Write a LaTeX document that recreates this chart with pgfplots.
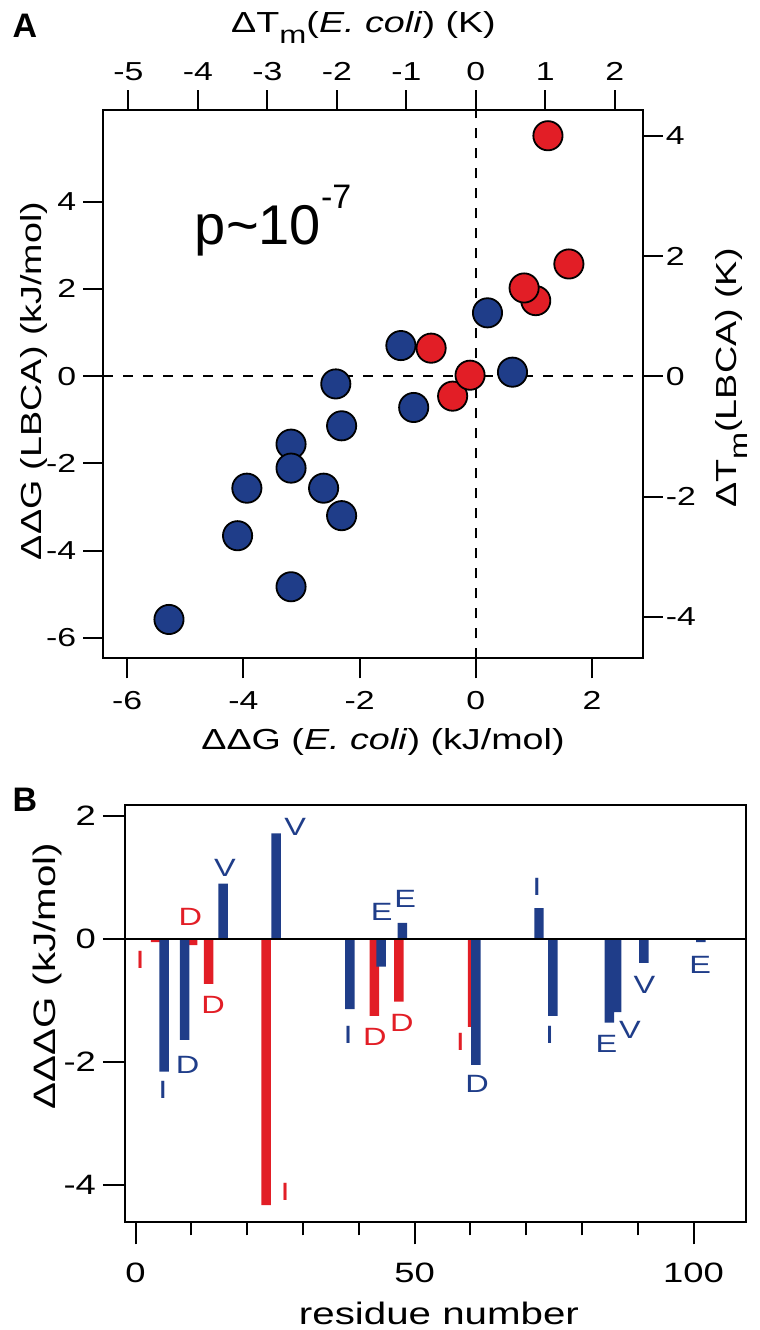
\documentclass[border=0pt]{standalone}
\usepackage{fontspec}
\setmainfont{Liberation Sans}[FakeStretch=1.3]
\newfontfamily\pfont{Liberation Sans}
\usepackage{pgfplots}
\pgfplotsset{compat=1.18}
\definecolor{myblue}{RGB}{31,61,137}
\definecolor{myred}{RGB}{226,30,38}
\newcommand{\sub}[1]{\raisebox{-5.5pt}{\fontsize{12.5}{13}\selectfont #1}}
\pgfplotsset{
  base/.style={
    scale only axis, anchor=south west,
    tick align=outside,
    axis line style={line width=1pt},
    every tick/.style={black, line width=1pt},
    /pgf/number format/assume math mode=true,
    label style={font=\fontsize{14.5}{16}\selectfont},
  },
}
\begin{document}
\begin{tikzpicture}
\path[use as bounding box] (0pt,0pt) rectangle (380pt,665pt);
% ---------- Panel A: secondary axes (top / right) ----------
\begin{axis}[base,
  at={(51.65pt,335.85pt)}, width=269.7pt, height=274.15pt,
  xmin=-5.36, xmax=2.40, ymin=-4.69, ymax=4.43,
  xtick={-5,-4,-3,-2,-1,0,1,2}, ytick={-4,-2,0,2,4},
  xtick pos=right, xticklabel pos=right,
  ytick pos=right, yticklabel pos=right,
  major tick length=10pt,
  tick label style={font=\fontsize{13}{14}\selectfont},
  xticklabel style={yshift=1pt},
  yticklabel style={xshift=-2pt},
  xlabel={ΔT\sub{m}(\textit{E. coli}) (K)},
  ylabel={ΔT\sub{m}(LBCA) (K)},
  xlabel style={at={(axis description cs:0.4824,1.150)}, anchor=center},
  ylabel style={at={(axis description cs:1.165,0.511)}, anchor=center},
]
\end{axis}
% ---------- Panel A: main axes ----------
\begin{axis}[base,
  at={(51.65pt,335.85pt)}, width=269.7pt, height=274.15pt,
  xmin=-6.41, xmax=2.87, ymin=-6.47, ymax=6.10,
  xtick={-6,-4,-2,0,2}, ytick={-6,-4,-2,0,2,4},
  xtick pos=left, ytick pos=left,
  major tick length=10pt,
  tick label style={font=\fontsize{13}{14}\selectfont},
  xticklabel style={yshift=-3pt},
  xlabel={ΔΔG (\textit{E. coli}) (kJ/mol)},
  ylabel={ΔΔG (LBCA) (kJ/mol)},
  xlabel style={at={(axis description cs:0.5185,-0.1527)}, anchor=center},
  ylabel style={at={(axis description cs:-0.128,0.5057)}, anchor=center},
]
\addplot[black, line width=1pt, dash pattern=on 5pt off 5pt] coordinates {(0,-6.47) (0,6.10)};
\addplot[black, line width=1pt, dash pattern=on 5pt off 5pt] coordinates {(-6.41,0) (2.87,0)};
\addplot[only marks, mark=*, mark size=7.3pt,
  mark options={fill=myblue, draw=black, line width=0.9pt}] coordinates {
  (0.20,1.45) (-1.29,0.70) (0.63,0.09) (-2.41,-0.18) (-1.07,-0.72)
  (-2.31,-1.14) (-3.18,-1.56) (-3.18,-2.11) (-3.94,-2.57) (-2.62,-2.57)
  (-2.31,-3.20) (-4.10,-3.66) (-3.18,-4.83) (-5.28,-5.58)};
\addplot[only marks, mark=*, mark size=7.3pt,
  mark options={fill=myred, draw=black, line width=0.9pt}] coordinates {
  (1.24,5.51) (1.60,2.57) (1.03,1.73) (0.83,2.02) (-0.77,0.64)
  (-0.40,-0.46) (-0.10,0.02)};
\node[anchor=base west, inner sep=0pt] at (axis cs:-4.84,3.01)
  {\pfont\fontsize{28}{30}\selectfont p\textasciitilde 10\raisebox{18pt}{\fontsize{17}{18}\selectfont -7}};
\end{axis}
\node[font=\pfont\bfseries\fontsize{17}{18}\selectfont] at (12.5pt,652pt) {A};
% ---------- Panel B ----------
\begin{axis}[base,
  at={(62.5pt,53.85pt)}, width=310.5pt, height=208.65pt,
  xmin=-1.9, xmax=109.4, ymin=-4.61, ymax=2.18,
  xtick={0,50,100}, minor xtick={10,20,30,40,60,70,80,90},
  ytick={-4,-2,0,2},
  xtick pos=left, ytick pos=left,
  major tick length=11pt, minor tick length=6.5pt,
  every minor tick/.style={black, line width=1pt},
  tick label style={font=\fontsize{14}{16}\selectfont},
  xticklabel style={yshift=-6pt},
  label style={font=\fontsize{15.5}{17}\selectfont},
  xlabel={residue number},
  ylabel={ΔΔΔG (kJ/mol)},
  xlabel style={at={(axis description cs:0.5056,-0.2461)}, anchor=base},
  ylabel style={at={(axis description cs:-0.125,0.59)}, anchor=center},
]
\addplot[ybar, bar width=1.7, bar shift=0pt, fill=myred, draw=none] coordinates {
  (3.6,-0.05) (10.2,-0.10) (13.1,-0.73) (23.4,-4.33) (42.8,-1.25) (47.2,-1.02) (60.4,-1.43)};
\addplot[ybar, bar width=1.7, bar shift=0pt, fill=myblue, draw=none] coordinates {
  (5.1,-2.16) (8.8,-1.64) (15.7,0.90) (25.2,1.72) (38.4,-1.14) (44.0,-0.45)
  (47.8,0.26) (61.0,-2.05) (72.3,0.50) (74.8,-1.25) (84.9,-1.36) (86.2,-1.19)
  (91.1,-0.39) (101.3,-0.05)};
\addplot[black, line width=1pt] coordinates {(-1.9,0) (109.4,0)};
\begin{scope}[every node/.style={font=\fontsize{12.5}{14}\selectfont, inner sep=0pt}]
\node[text=myred] at (axis cs:0.8,-0.34) {I};
\node[text=myred] at (axis cs:9.8,0.36) {D};
\node[text=myred] at (axis cs:13.9,-1.07) {D};
\node[text=myred] at (axis cs:26.8,-4.11) {I};
\node[text=myred] at (axis cs:42.9,-1.59) {D};
\node[text=myred] at (axis cs:47.7,-1.37) {D};
\node[text=myred] at (axis cs:58.2,-1.67) {I};
\node[text=myblue] at (axis cs:4.9,-2.46) {I};
\node[text=myblue] at (axis cs:9.3,-2.05) {D};
\node[text=myblue] at (axis cs:16.0,1.15) {V};
\node[text=myblue] at (axis cs:28.6,1.83) {V};
\node[text=myblue] at (axis cs:38.1,-1.56) {I};
\node[text=myblue] at (axis cs:44.1,0.44) {E};
\node[text=myblue] at (axis cs:48.3,0.66) {E};
\node[text=myblue] at (axis cs:61.2,-2.35) {D};
\node[text=myblue] at (axis cs:71.9,0.85) {I};
\node[text=myblue] at (axis cs:74.2,-1.56) {I};
\node[text=myblue] at (axis cs:84.4,-1.70) {E};
\node[text=myblue] at (axis cs:88.6,-1.48) {V};
\node[text=myblue] at (axis cs:91.2,-0.75) {V};
\node[text=myblue] at (axis cs:101.2,-0.42) {E};
\end{scope}
\end{axis}
\node[font=\pfont\bfseries\fontsize{17}{18}\selectfont] at (12.5pt,265pt) {B};
\end{tikzpicture}
\end{document}
